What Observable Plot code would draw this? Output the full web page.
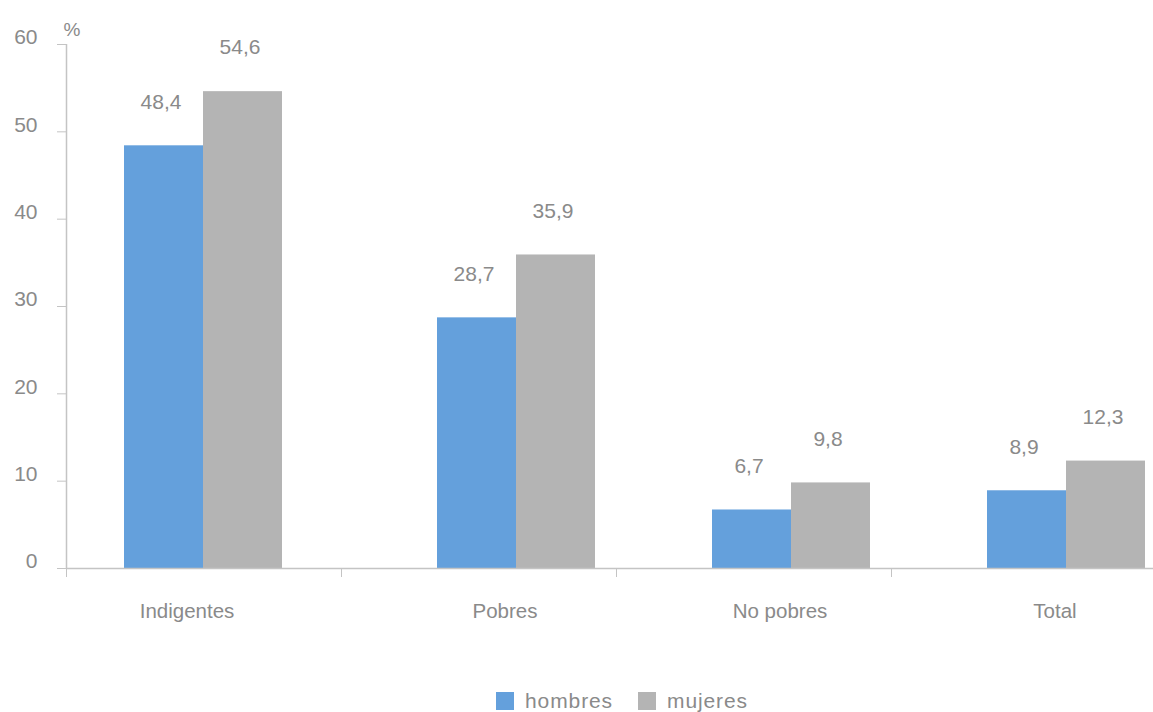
<!DOCTYPE html>
<html>
<head>
<meta charset="utf-8">
<script src="https://cdn.jsdelivr.net/npm/d3@7"></script>
<script src="https://cdn.jsdelivr.net/npm/@observablehq/plot@0.6"></script>
<style>
  html, body { margin: 0; padding: 0; background: #fff; }
  body { width: 1153px; height: 712px; overflow: hidden; font-family: "Liberation Sans", Arial, sans-serif; position: relative; }
  #legend { position: relative; height: 52px; font-size: 21px; color: #8a8a8a; letter-spacing: 0.9px; }
  #legend .item { position: absolute; top: 29px; display: flex; align-items: center; line-height: 24px; }
  #legend .sw { width: 18px; height: 18px; display: inline-block; margin-right: 11px; }
</style>
</head>
<body>
<div id="chart"></div>
<div id="legend"></div>
<script>
// Data
const categories = ["Indigentes", "Pobres", "No pobres", "Total"];
const series = ["hombres", "mujeres"];
const hombres = [48.4, 28.7, 6.7, 8.9];
const mujeres = [54.6, 35.9, 9.8, 12.3];
const yTicks = [0, 10, 20, 30, 40, 50, 60];
const colors = {hombres: "#64a0dc", mujeres: "#b4b4b4"};

const rows = [];
categories.forEach((c, i) => {
  rows.push({cat: c, sex: "hombres", value: hombres[i]});
  rows.push({cat: c, sex: "mujeres", value: mujeres[i]});
});
const fmt = v => v.toFixed(1).replace(".", ",");

const textColor = "#8a8a8a";
const lineColor = "#c4c4c4";
const x0 = 66, bw = 275;
const firstShift = -38; // the first group sits further left in the original layout

function groupMarks(data, shift) {
  const h = data.filter(d => d.sex === "hombres");
  const m = data.filter(d => d.sex === "mujeres");
  return [
    Plot.barY(h, {x: "cat", y: "value", fill: colors.hombres, insetLeft: 96, insetRight: bw - 175, dx: shift}),
    Plot.barY(m, {x: "cat", y: "value", fill: colors.mujeres, insetLeft: 175, insetRight: bw - 254, dx: shift}),
    Plot.text(h, {x: "cat", y: "value", text: d => fmt(d.value), dy: -44, dx: -5 + shift, fill: textColor, fontSize: 21, letterSpacing: 0.5}),
    Plot.text(m, {x: "cat", y: "value", text: d => fmt(d.value), dy: -44, dx: 74 + shift, fill: textColor, fontSize: 21, letterSpacing: 0.5})
  ];
}

const chart = Plot.plot({
  width: 1153,
  height: 660,
  marginLeft: x0,
  marginRight: 0,
  marginTop: 44,
  marginBottom: 92,
  style: {fontFamily: "'Liberation Sans', Arial, sans-serif", fontSize: "21px", color: textColor, background: "#fff"},
  x: {domain: categories, range: [x0, x0 + bw * categories.length], padding: 0, axis: null},
  y: {domain: [0, 60], axis: null},
  marks: [
    ...groupMarks(rows.filter(d => d.cat === categories[0]), firstShift),
    ...groupMarks(rows.filter(d => d.cat !== categories[0]), 0),
    Plot.ruleY([0], {stroke: lineColor, strokeWidth: 1.5}),
    Plot.ruleX([categories[0]], {y1: 0, y2: 60, dx: -bw / 2, stroke: lineColor, strokeWidth: 1.5}),
    Plot.axisY({ticks: yTicks, tickSize: 9, tickFormat: () => "", stroke: lineColor, label: null}),
    Plot.axisY({ticks: yTicks, tickSize: 0, tickPadding: 29, dy: -7, fill: textColor, fontSize: 21, letterSpacing: 0.5, tickFormat: d => String(d), label: null}),
    Plot.axisX({tickSize: 9, tickFormat: () => "", dx: -bw / 2, stroke: lineColor, label: null}),
    Plot.axisX({ticks: [categories[0]], tickSize: 0, tickPadding: 35, dx: -17, fill: textColor, fontSize: 20.5, letterSpacing: 0.4, label: null}),
    Plot.axisX({ticks: categories.slice(1), tickSize: 0, tickPadding: 35, dx: 26, fill: textColor, fontSize: 20.5, letterSpacing: 0.4, label: null}),
    Plot.text(["%"], {frameAnchor: "top-left", dx: -3, dy: -22, text: d => d, fill: textColor, fontSize: 19})
  ]
});
document.getElementById("chart").appendChild(chart);

const legend = document.getElementById("legend");
const legendLeft = {hombres: 496, mujeres: 638};
series.forEach(s => {
  const item = document.createElement("span");
  item.className = "item";
  item.style.left = legendLeft[s] + "px";
  const sw = document.createElement("span");
  sw.className = "sw";
  sw.style.background = colors[s];
  item.appendChild(sw);
  item.appendChild(document.createTextNode(s));
  legend.appendChild(item);
});
</script>
</body>
</html>
